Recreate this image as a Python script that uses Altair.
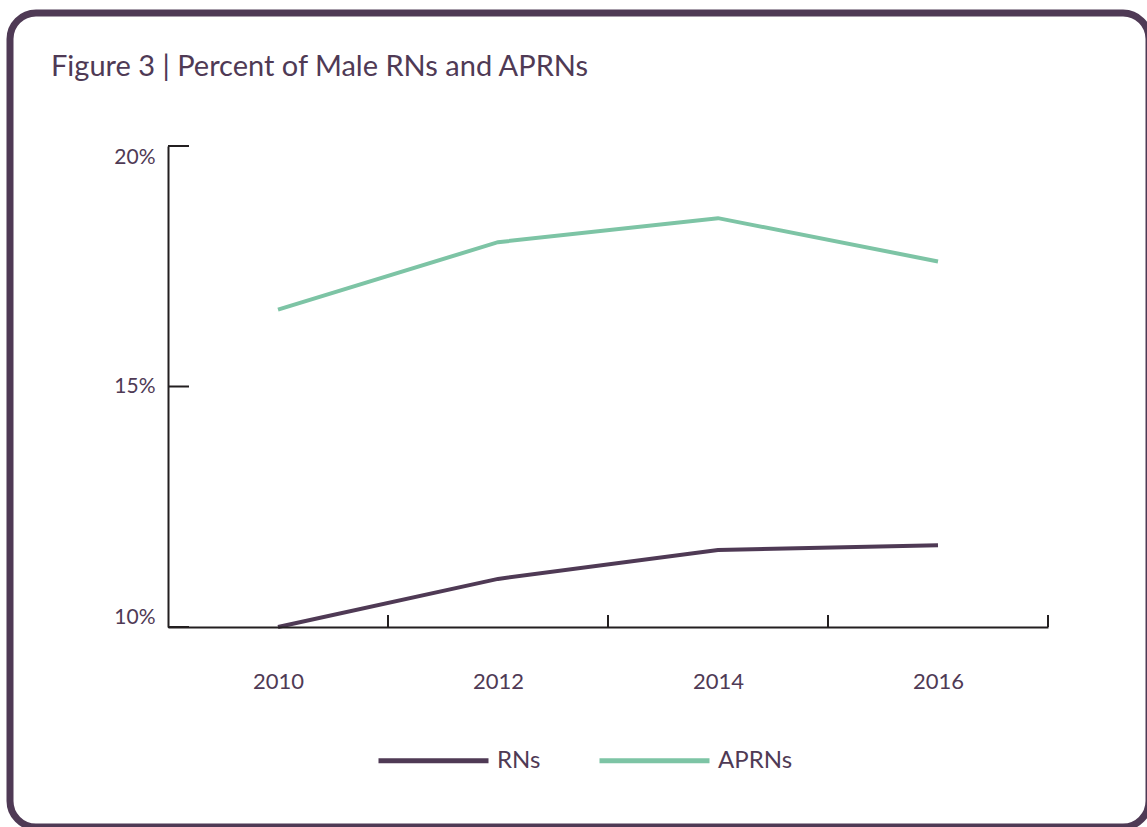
import altair as alt
import pandas as pd

# Share of nurses who are male, by survey year (percent)
years = [2010, 2012, 2014, 2016]
rns = [10.0, 11.0, 11.6, 11.7]
aprns = [16.6, 18.0, 18.5, 17.6]
series = ["RNs", "APRNs"]
colors = ["#4f3a55", "#7dc4a5"]

y_ticks = [10, 15, 20]
x_ticks = [2011, 2013, 2015, 2017]  # boundaries between year groups

title_text = "Figure 3 | Percent of Male RNs and APRNs"

W, H = 880, 481
FONT = "Lato"
TEXT = "#4f3a55"
AXIS = "#231f20"

df = pd.DataFrame(
    {
        "year": years * 2,
        "pct": rns + aprns,
        "series": ["RNs"] * len(years) + ["APRNs"] * len(years),
    }
)

x_scale = alt.Scale(domain=[2009, 2017], nice=False, zero=False)
y_scale = alt.Scale(domain=[10, 20], nice=False, zero=False)

# Rounded frame around the whole figure
frame = (
    alt.Chart(pd.DataFrame({"k": [0]}))
    .mark_rect(fill="white", stroke="#4f3a55", strokeWidth=7, cornerRadius=26)
    .encode(
        x=alt.value(10 - 168),
        x2=alt.value(1149 - 168),
        y=alt.value(13 - 146),
        y2=alt.value(827 - 146),
    )
)

heading = (
    alt.Chart(pd.DataFrame({"label": [title_text]}))
    .mark_text(
        font=FONT,
        fontSize=29,
        color=TEXT,
        align="left",
        baseline="alphabetic",
    )
    .encode(text="label:N", x=alt.value(51 - 168), y=alt.value(76 - 146))
)

lines = (
    alt.Chart(df)
    .mark_line(strokeWidth=4)
    .encode(
        x=alt.X(
            "year:Q",
            scale=x_scale,
            axis=alt.Axis(
                values=years,
                format="d",
                title=None,
                ticks=False,
                tickSize=0,
                grid=False,
                domainColor=AXIS,
                domainWidth=2,
                labelFont=FONT,
                labelFontSize=22,
                labelColor=TEXT,
                labelPadding=44,
                labelBaseline="top",
                zindex=1,
            ),
        ),
        y=alt.Y(
            "pct:Q",
            scale=y_scale,
            axis=alt.Axis(
                values=y_ticks,
                labelExpr="datum.value + '%'",
                title=None,
                ticks=False,
                tickSize=0,
                grid=False,
                domainColor=AXIS,
                domainWidth=2,
                labelFont=FONT,
                labelFontSize=21,
                labelColor=TEXT,
                labelPadding=13,
                labelFlush=True,
                zindex=1,
            ),
        ),
        color=alt.Color(
            "series:N",
            scale=alt.Scale(domain=series, range=colors),
            legend=alt.Legend(
                title=None,
                orient="none",
                direction="horizontal",
                legendX=376 - 168,
                legendY=748 - 146 - 45,
                symbolType="stroke",
                symbolSize=12100,
                symbolStrokeWidth=5,
                labelFont=FONT,
                labelFontSize=24,
                labelColor=TEXT,
                labelOffset=6,
                columnPadding=48,
                padding=0,
            ),
        ),
        order=alt.Order("year:Q"),
    )
)

# Inward-pointing tick marks on both axes
xtick_df = pd.DataFrame({"t": x_ticks})
xticks = (
    alt.Chart(xtick_df)
    .mark_rule(color=AXIS, strokeWidth=2)
    .encode(
        x=alt.X("t:Q", scale=x_scale),
        y=alt.value(H),
        y2=alt.value(H - 12),
    )
)

ytick_df = pd.DataFrame({"t": y_ticks})
yticks = (
    alt.Chart(ytick_df)
    .mark_rule(color=AXIS, strokeWidth=2)
    .encode(
        y=alt.Y("t:Q", scale=y_scale),
        x=alt.value(0),
        x2=alt.value(21),
    )
)

chart = (
    alt.layer(frame, heading, xticks, yticks, lines)
    .properties(
        width=W,
        height=H,
        autosize=alt.AutoSizeParams(type="none"),
        padding={"left": 168, "top": 146, "right": 99, "bottom": 200},
    )
    .configure_view(stroke=None)
    .configure(background="white")
)

chart.save("out.html", embed_options={"renderer": "svg", "actions": False})
